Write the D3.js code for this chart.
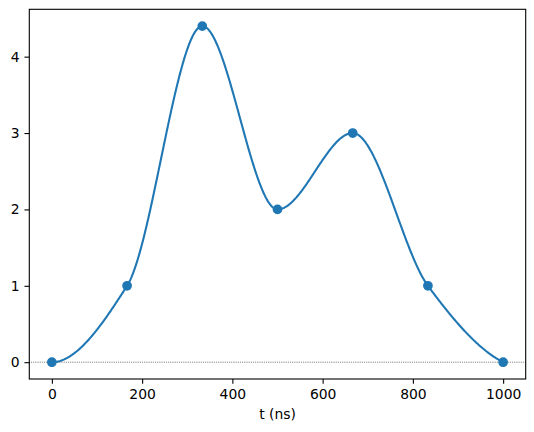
<!DOCTYPE html>
<html><head><meta charset="utf-8">
<script src="https://cdn.jsdelivr.net/npm/d3@7"></script>
<style>body{margin:0;background:#fff}svg{display:block}text{font-family:"DejaVu Sans",sans-serif;font-size:13.9px;fill:#000}</style>
</head><body><svg id="c" width="534" height="432"></svg>
<script>
// Data
const times = [0, 166.667, 333.333, 500, 666.667, 833.333, 1000];
const values = [0, 1, 4.4, 2, 3, 1, 0];
const xTicks = [0, 200, 400, 600, 800, 1000];
const yTicks = [0, 1, 2, 3, 4];
const xLabel = "t (ns)";

// PCHIP interpolation (monotone piecewise cubic Hermite)
function pchip(x, y) {
  const n = x.length, h = [], del = [], d = new Array(n).fill(0);
  for (let i = 0; i < n - 1; i++) { h.push(x[i+1]-x[i]); del.push((y[i+1]-y[i])/h[i]); }
  for (let k = 1; k < n - 1; k++) {
    if (del[k-1]*del[k] > 0) {
      const w1 = 2*h[k] + h[k-1], w2 = h[k] + 2*h[k-1];
      d[k] = (w1 + w2) / (w1/del[k-1] + w2/del[k]);
    } else d[k] = 0;
  }
  function edge(h0, h1, m0, m1) {
    let dd = ((2*h0 + h1)*m0 - h0*m1) / (h0 + h1);
    if (Math.sign(dd) !== Math.sign(m0)) dd = 0;
    else if (Math.sign(m0) !== Math.sign(m1) && Math.abs(dd) > Math.abs(3*m0)) dd = 3*m0;
    return dd;
  }
  d[0] = edge(h[0], h[1], del[0], del[1]);
  d[n-1] = edge(h[n-2], h[n-3], del[n-2], del[n-3]);
  return function(t) {
    let i = 0;
    while (i < n - 2 && t > x[i+1]) i++;
    const hh = h[i], s = (t - x[i]) / hh;
    const h00 = 2*s*s*s - 3*s*s + 1, h10 = s*s*s - 2*s*s + s, h01 = -2*s*s*s + 3*s*s, h11 = s*s*s - s*s;
    return h00*y[i] + h10*hh*d[i] + h01*y[i+1] + h11*hh*d[i+1];
  };
}
const f = pchip(times, values);
const curve = d3.range(0, 1000.0001, 2).map(t => [t, f(t)]);

const L = 29.3, R = 525.7, T = 9.3, B = 379;
const x = d3.scaleLinear().domain([-50, 1050]).range([L, R]);
const ymin = 0, ymax = 4.4, pad = (ymax - ymin) * 0.05;
const y = d3.scaleLinear().domain([ymin - pad, ymax + pad]).range([B, T]);

const svg = d3.select("#c");
// zero line
svg.append("line").attr("x1", L).attr("x2", R).attr("y1", y(0)).attr("y2", y(0))
  .attr("stroke", "#000").attr("stroke-width", 0.7).attr("stroke-dasharray", "0.7,1.15");

svg.append("path").datum(curve)
  .attr("d", d3.line().x(d => x(d[0])).y(d => y(d[1])))
  .attr("fill", "none").attr("stroke", "#1f77b4").attr("stroke-width", 2.08)
  .attr("stroke-linejoin", "round").attr("stroke-linecap", "butt");

svg.selectAll("circle").data(times).enter().append("circle")
  .attr("cx", (d) => x(d)).attr("cy", (d, i) => y(values[i])).attr("r", 4.17)
  .attr("fill", "#1f77b4").attr("stroke", "#1f77b4").attr("stroke-width", 1.39);

// spines
svg.append("rect").attr("x", L).attr("y", T).attr("width", R - L).attr("height", B - T)
  .attr("fill", "none").attr("stroke", "#000").attr("stroke-width", 1.1);

const xa = svg.append("g").attr("transform", `translate(0,${B})`)
  .call(d3.axisBottom(x).tickValues(xTicks).tickSize(4.86).tickPadding(4.86).tickFormat(d3.format("d")));
const ya = svg.append("g").attr("transform", `translate(${L},0)`)
  .call(d3.axisLeft(y).tickValues(yTicks).tickSize(4.86).tickPadding(4.86).tickFormat(d3.format("d")));
[xa, ya].forEach(g => {
  g.select(".domain").remove();
  g.selectAll("line").attr("stroke", "#000").attr("stroke-width", 1.1);
  g.selectAll("text").attr("font-family", "DejaVu Sans").attr("font-size", 13.9).attr("fill", "#000");
});
svg.append("text").attr("x", (L + R) / 2).attr("y", 418.5).attr("text-anchor", "middle").text(xLabel);
</script></body></html>
